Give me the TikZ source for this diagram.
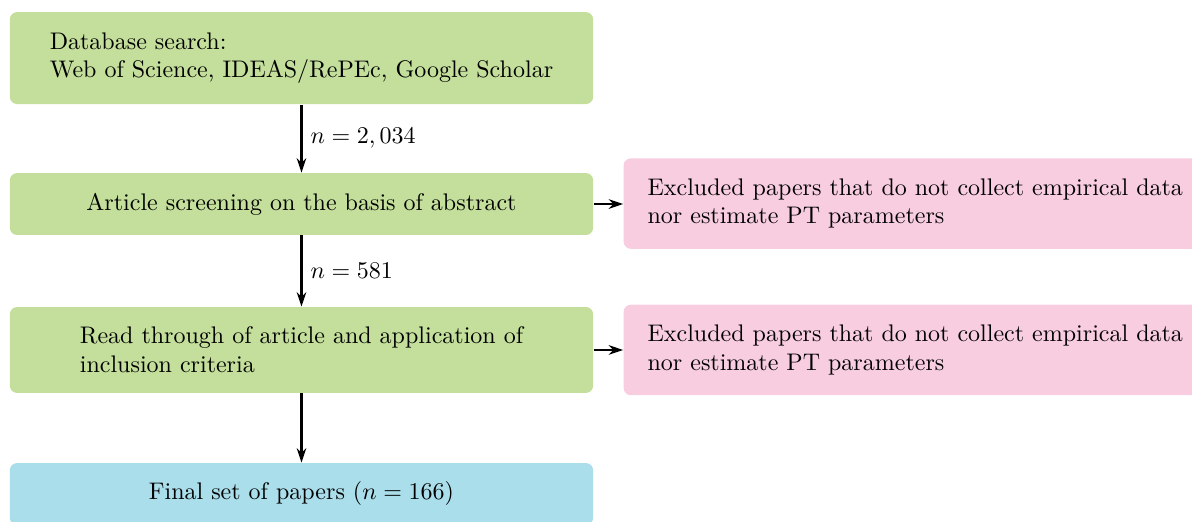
\documentclass[tikz,border=0pt]{standalone}
\usetikzlibrary{arrows.meta}

\definecolor{stagegreen}{RGB}{196,223,155}
\definecolor{droppink}{RGB}{248,205,224}
\definecolor{finalblue}{RGB}{170,222,235}

\begin{document}
\begin{tikzpicture}[x=1pt,y=1pt,
  stage/.style={fill=stagegreen, rounded corners=3pt, minimum width=243pt, align=left},
  dropped/.style={fill=droppink, rounded corners=3pt, align=left, anchor=west,
    inner xsep=10pt, minimum height=37.7pt},
  flow/.style={line width=0.85pt, -{Stealth[length=6pt,width=4pt]}}]
  \useasboundingbox (0,0) rectangle (496.6,-217.1);

  % selection stages
  \node[stage, minimum height=38.3pt] (search) at (125.6,-24.2)
    {Database search:\\Web of Science, IDEAS/RePEc, Google Scholar};
  \node[stage, minimum height=25.8pt] (screen) at (125.6,-85)
    {Article screening on the basis of abstract};
  \node[stage, minimum height=35.8pt] (read) at (125.6,-145.8)
    {Read through of article and application of\\inclusion criteria};
  \node[stage, fill=finalblue, minimum height=25.8pt] (final) at (125.6,-205.8)
    {Final set of papers ($n=166$)};

  % exclusions
  \node[dropped] (drop1) at (259.6,-84.8)
    {Excluded papers that do not collect empirical data\\nor estimate PT parameters};
  \node[dropped] (drop2) at (259.6,-145.8)
    {Excluded papers that do not collect empirical data\\nor estimate PT parameters};

  \draw[flow] (search) -- (screen) node[midway, right] {$n=2,034$};
  \draw[flow] (screen) -- (read) node[midway, right] {$n=581$};
  \draw[flow] (read) -- (final);
  \draw[flow] (screen.east) -- (screen.east -| drop1.west);
  \draw[flow] (read.east) -- (read.east -| drop2.west);
\end{tikzpicture}
\end{document}
